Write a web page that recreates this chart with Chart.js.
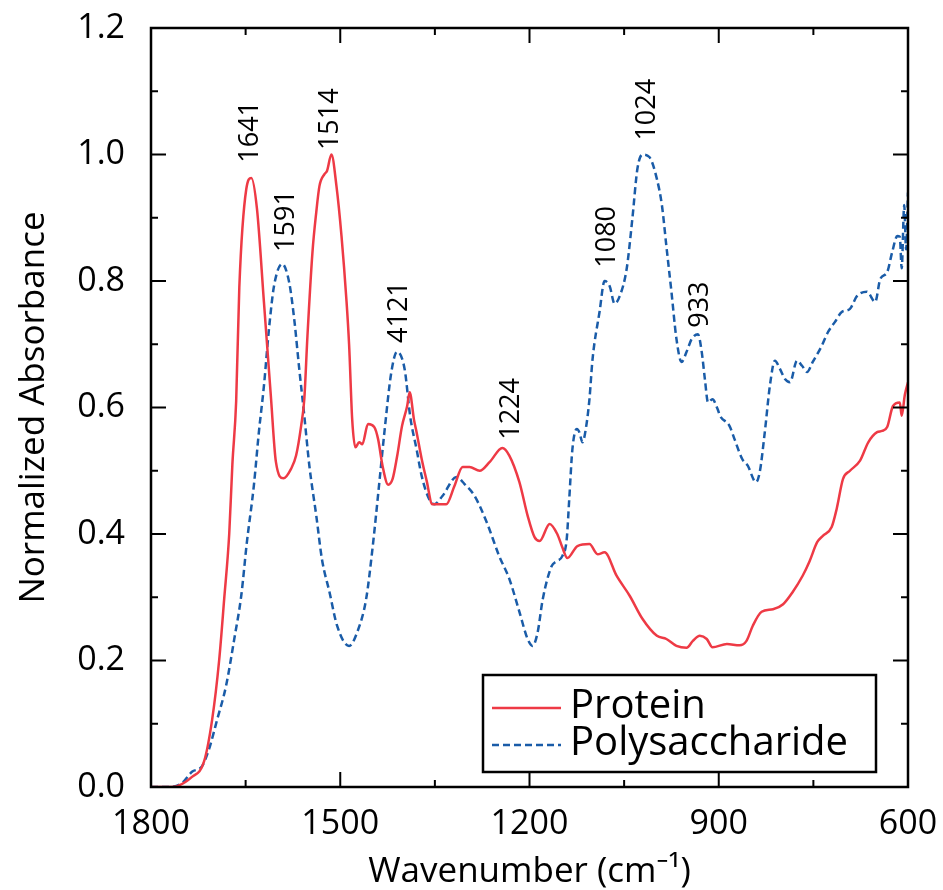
<!DOCTYPE html>
<html>
<head>
<meta charset="utf-8">
<script src="https://cdn.jsdelivr.net/npm/chart.js@4.4.1/dist/chart.umd.min.js"></script>
<style>
  html, body { margin: 0; padding: 0; background: #fff; }
</style>
</head>
<body>
<canvas id="myChartSpectra" width="943" height="890"></canvas>
<script>
// wavenumbers (cm-1) and normalized absorbance
const proteinWn = [
  1800,1767,1735,1716,1703,1692,1684,1676,1671,1665,
  1660,1649,1641,1632,1621,1610,1602,1590,1578,1570,
  1562,1557,1552,1544,1538,1533,1525,1521,1514,1506,
  1498,1490,1486,1481,1476,1470,1465,1456,1446,1440,
  1433,1424,1417,1410,1402,1394,1390,1383,1379,1371,
  1363,1354,1332,1319,1306,1295,1279,1263,1243,1232,
  1216,1203,1192,1184,1168,1156,1148,1140,1124,1105,
  1092,1081,1062,1041,1021,998,983,967,951,941,
  930,919,910,887,867,856,846,832,814,798,
  783,767,756,744,735,721,713,703,692,676,
  663,649,641,633,624,613,610,605,600
]
const proteinAbs = [
  0,0,0.016,0.04,0.107,0.2,0.297,0.40,0.51,0.61,
  0.79,0.945,0.963,0.914,0.767,0.618,0.514,0.488,0.503,0.524,
  0.571,0.613,0.713,0.846,0.909,0.95,0.969,0.974,1.0,0.95,
  0.871,0.767,0.70,0.58,0.537,0.545,0.542,0.574,0.569,0.55,
  0.508,0.478,0.487,0.522,0.571,0.602,0.624,0.58,0.561,0.519,
  0.484,0.447,0.447,0.476,0.506,0.506,0.50,0.514,0.536,0.524,
  0.482,0.429,0.395,0.389,0.416,0.40,0.379,0.362,0.381,0.384,
  0.368,0.371,0.334,0.302,0.266,0.239,0.234,0.223,0.22,0.231,
  0.239,0.234,0.221,0.226,0.224,0.231,0.255,0.277,0.281,0.289,
  0.308,0.334,0.357,0.387,0.397,0.411,0.44,0.487,0.50,0.516,
  0.545,0.561,0.563,0.569,0.602,0.608,0.587,0.62,0.64
]

const polyWn = [
  1800,1771,1751,1735,1719,1708,1695,1681,1668,1657,
  1648,1637,1629,1621,1613,1605,1592,1581,1573,1565,
  1557,1549,1538,1529,1517,1505,1486,1473,1459,1449,
  1438,1430,1419,1410,1398,1389,1379,1371,1359,1351,
  1338,1316,1303,1287,1268,1248,1232,1216,1203,1195,
  1187,1179,1165,1157,1148,1141,1137,1132,1125,1121,
  1116,1110,1105,1100,1089,1081,1073,1065,1057,1046,
  1037,1029,1021,1010,998,990,983,975,967,959,
  951,943,933,927,922,917,910,902,898,883,
  875,863,854,841,835,827,819,811,803,795,
  787,776,768,760,751,737,727,716,705,692,
  681,665,652,644,633,625,617,613,610,606,603,600
]
const polyAbs = [
  0,0,0.006,0.024,0.033,0.06,0.107,0.16,0.234,0.302,
  0.387,0.476,0.561,0.634,0.724,0.792,0.827,0.798,0.74,0.661,
  0.587,0.508,0.429,0.36,0.308,0.255,0.223,0.245,0.297,0.376,
  0.482,0.561,0.656,0.688,0.661,0.585,0.534,0.492,0.455,0.447,
  0.46,0.49,0.479,0.46,0.419,0.365,0.329,0.277,0.234,0.223,
  0.245,0.297,0.349,0.357,0.365,0.392,0.455,0.534,0.566,0.561,
  0.545,0.571,0.613,0.677,0.751,0.80,0.792,0.764,0.776,0.819,
  0.898,0.977,1.0,0.996,0.961,0.919,0.855,0.783,0.708,0.672,
  0.688,0.708,0.716,0.688,0.645,0.608,0.613,0.598,0.587,0.571,
  0.55,0.519,0.508,0.482,0.498,0.561,0.634,0.674,0.661,0.645,
  0.64,0.674,0.666,0.656,0.672,0.697,0.719,0.735,0.751,0.756,
  0.776,0.783,0.767,0.803,0.814,0.846,0.871,0.87,0.82,0.92,0.85,0.94
]

// peak labels (text, wavenumber, absorbance where the label starts)
const peakText = ['1641', '1591', '1514', '4121', '1224', '1080', '1024', '933']
const peakWn   = [1642, 1586, 1516, 1407, 1229, 1077, 1014, 930]
const peakAbs  = [0.987, 0.846, 1.007, 0.702, 0.549, 0.821, 1.022, 0.726]

const xMajor = [1800, 1500, 1200, 900, 600]
const xMinor = [1650, 1350, 1050, 750]
const yMajor = [0, 0.2, 0.4, 0.6, 0.8, 1.0, 1.2]
const yMinor = [0.1, 0.3, 0.5, 0.7, 0.9, 1.1]

const FONT = '"Open Sans", "Noto Sans", sans-serif'
const RED = '#ee3a45'
const BLUE = '#1a5ca8'

const toPoints = (xs, ys) => xs.map((v, i) => ({ x: v, y: ys[i] }))

// frame with inward ticks on all four sides
const frameTicks = {
  id: 'frameTicks',
  afterDatasetsDraw(chart) {
    const { ctx, chartArea: a, scales: { x, y } } = chart
    ctx.save()
    ctx.strokeStyle = '#000'
    ctx.lineWidth = 2
    const xt = (vals, len) => vals.forEach(v => {
      const px = x.getPixelForValue(v)
      ctx.beginPath()
      ctx.moveTo(px, a.bottom); ctx.lineTo(px, a.bottom - len)
      ctx.moveTo(px, a.top); ctx.lineTo(px, a.top + len)
      ctx.stroke()
    })
    const yt = (vals, len) => vals.forEach(v => {
      const py = y.getPixelForValue(v)
      ctx.beginPath()
      ctx.moveTo(a.left, py); ctx.lineTo(a.left + len, py)
      ctx.moveTo(a.right, py); ctx.lineTo(a.right - len, py)
      ctx.stroke()
    })
    xt(xMajor, 15); xt(xMinor, 7)
    yt(yMajor, 15); yt(yMinor, 7)
    ctx.lineWidth = 2.5
    ctx.strokeRect(a.left, a.top, a.right - a.left, a.bottom - a.top)
    ctx.restore()
  }
}

const peakLabels = {
  id: 'peakLabels',
  afterDatasetsDraw(chart) {
    const { ctx, scales: { x, y } } = chart
    ctx.save()
    ctx.fillStyle = '#000'
    ctx.font = '27px ' + FONT
    ctx.textAlign = 'left'
    ctx.textBaseline = 'middle'
    peakText.forEach((t, i) => {
      ctx.save()
      ctx.translate(x.getPixelForValue(peakWn[i]), y.getPixelForValue(peakAbs[i]))
      ctx.rotate(-Math.PI / 2)
      ctx.fillText(t, 0, 0)
      ctx.restore()
    })
    ctx.restore()
  }
}

// boxed legend in the lower right of the plot
const boxLegend = {
  id: 'boxLegend',
  afterDraw(chart) {
    const { ctx, chartArea: a } = chart
    const w = 393, h = 97
    const left = a.right - 32 - w
    const top = a.bottom - 15 - h
    ctx.save()
    ctx.fillStyle = '#fff'
    ctx.fillRect(left, top, w, h)
    ctx.strokeStyle = '#000'
    ctx.lineWidth = 2.5
    ctx.strokeRect(left, top, w, h)
    chart.data.datasets.forEach((ds, i) => {
      const ly = top + 33 + i * 37
      ctx.beginPath()
      ctx.strokeStyle = ds.borderColor
      ctx.lineWidth = ds.borderWidth
      ctx.setLineDash(ds.borderDash || [])
      ctx.moveTo(left + 9, ly)
      ctx.lineTo(left + 78, ly)
      ctx.stroke()
      ctx.setLineDash([])
      ctx.fillStyle = '#000'
      ctx.font = '40px ' + FONT
      ctx.textBaseline = 'alphabetic'
      ctx.fillText(ds.label, left + 87, top + 43 + i * 37)
    })
    ctx.restore()
  }
}

// stop the end tick labels from pushing the plot area inward
const noOverflow = s => {
  s.paddingTop = 0; s.paddingBottom = 0
  s.paddingLeft = 0; s.paddingRight = 0
}

var ctx = document.getElementById('myChartSpectra')
var myChart = new Chart(ctx, {
  type: 'line',
  data: {
    datasets: [{
      label: 'Protein',
      data: toPoints(proteinWn, proteinAbs),
      borderColor: RED,
      borderWidth: 2.5,
      pointRadius: 0,
      cubicInterpolationMode: 'monotone'
    }, {
      label: 'Polysaccharide',
      data: toPoints(polyWn, polyAbs),
      borderColor: BLUE,
      borderWidth: 2.5,
      borderDash: [7, 4],
      pointRadius: 0,
      cubicInterpolationMode: 'monotone'
    }]
  },
  options: {
    responsive: false,
    animation: false,
    layout: { padding: { top: 28, right: 35, left: 0, bottom: 0 } },
    plugins: {
      legend: { display: false },
      tooltip: { enabled: false }
    },
    scales: {
      x: {
        type: 'linear',
        reverse: true,
        min: 600,
        max: 1800,
        afterBuildTicks: s => { s.ticks = xMajor.map(v => ({ value: v })) },
        afterFit: s => { s.height = 103; noOverflow(s) },
        grid: { display: false, drawTicks: false },
        border: { display: false },
        ticks: {
          autoSkip: false, maxRotation: 0, padding: 17,
          color: '#000', font: { family: FONT, size: 34 },
          callback: v => String(v)
        },
        title: {
          display: true, text: 'Wavenumber (cm\u207B\u00B9)', color: '#000',
          font: { family: FONT, size: 35, lineHeight: 1 }, padding: 0
        }
      },
      y: {
        min: 0,
        max: 1.2,
        afterBuildTicks: s => { s.ticks = yMajor.map(v => ({ value: v })) },
        afterFit: s => { s.width = 151; noOverflow(s) },
        grid: { display: false, drawTicks: false },
        border: { display: false },
        ticks: {
          padding: 26, color: '#000', font: { family: FONT, size: 34 },
          callback: v => v.toFixed(1)
        },
        title: {
          display: true, text: 'Normalized Absorbance', color: '#000',
          font: { family: FONT, size: 35, lineHeight: 1.2 }, padding: { top: 13, bottom: 0 }
        }
      }
    }
  },
  plugins: [frameTicks, peakLabels, boxLegend]
})
</script>
</body>
</html>
